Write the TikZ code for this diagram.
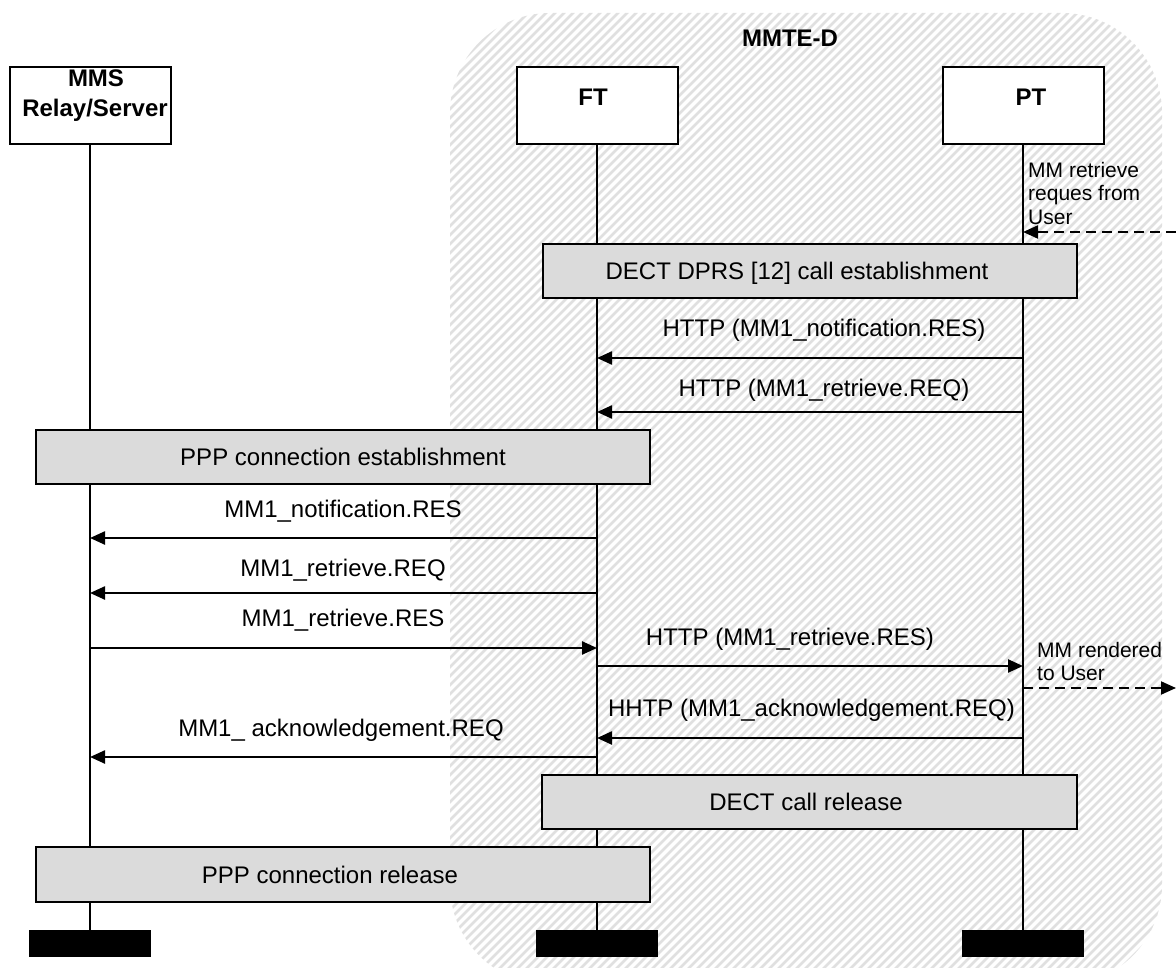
\documentclass[tikz,border=0pt]{standalone}
\usepackage{fontspec}
\setmainfont{Liberation Sans}
\usetikzlibrary{arrows.meta,calc}
\definecolor{hatchgray}{RGB}{224,224,224}
\definecolor{boxgray}{RGB}{219,219,219}
\tikzset{
  ent/.style={draw=black,line width=2pt,fill=white,minimum width=161pt,minimum height=77pt,inner sep=0pt},
  endbar/.style={fill=black,minimum width=122pt,minimum height=27pt,inner sep=0pt},
  actbox/.style={draw=black,line width=2pt,fill=boxgray,inner sep=0pt},
  life/.style={line width=2pt},
  hatchline/.style={draw=hatchgray,line width=2.6pt},
  msg/.style={line width=2.4pt,-{Triangle[length=15pt,width=13pt]}},
  usermsg/.style={line width=2pt,dash pattern=on 10pt off 6pt,-{Triangle[length=15pt,width=13pt]}},
  lbl/.style={font=\fontsize{24}{28}\selectfont,inner sep=0pt,anchor=base},
  blbl/.style={font=\fontsize{24}{28}\selectfont\bfseries,inner sep=0pt,anchor=base},
  note/.style={font=\fontsize{21}{23.5}\selectfont,align=left,inner sep=0pt,anchor=north west},
}
\begin{document}
\begin{tikzpicture}[x=1pt,y=-1pt]
\useasboundingbox (0,0) rectangle (1176,968);
% hatched MMTE-D region
\begin{scope}
  \clip (0,0) rectangle (1176,968);
  \clip[rounded corners=100pt] (450,13) rectangle (1162,985);
  \foreach \i in {-530,-521,...,1170} {
    \draw[hatchline] (\i,990) -- ++(980,-980);
  }
\end{scope}
\node[blbl] (mmte) at (790,47) {MMTE-D};

% entities
\node[ent] (mms) at (90,106) {};
\node[ent] (ft) at (597,106) {};
\node[ent] (pt) at (1023,106) {};
\node[blbl] (mmst1) at (96,87) {MMS};
\node[blbl] (mmst2) at (95,117) {Relay/Server};
\node[blbl] (ftt) at (593,106) {FT};
\node[blbl] (ptt) at (1031,106) {PT};

% end bars
\node[endbar] (mmsend) at (90,943.5) {};
\node[endbar] (ftend) at (597,943.5) {};
\node[endbar] (ptend) at (1023,943.5) {};

% lifelines
\draw[life] (mms.south) -- (mmsend.north);
\draw[life] (ft.south) -- (ftend.north);
\draw[life] (pt.south) -- (ptend.north);

% action boxes
\node[actbox,minimum width=534pt,minimum height=54pt] (dectest) at (810,271.5) {};
\node[lbl] (dectestt) at (797,280) {DECT DPRS [12] call establishment};
\node[actbox,minimum width=614pt,minimum height=54pt] (pppest) at (343,457) {};
\node[lbl] (pppestt) at (343,465.5) {PPP connection establishment};
\node[actbox,minimum width=535pt,minimum height=54pt] (dectrel) at (809.5,802) {};
\node[lbl] (dectrelt) at (806,810.5) {DECT call release};
\node[actbox,minimum width=614pt,minimum height=55pt] (ppprel) at (343,874.5) {};
\node[lbl] (ppprelt) at (330,883) {PPP connection release};

% user request
\coordinate (userin) at (1176,232);
\draw[usermsg] (userin) -- (pt.south |- userin);
\node[note] (usernote1) at (1028,162) {MM retrieve\\reques from\\User};

% messages
\draw[msg] (pt.south |- 0,358) -- (ft.south |- 0,358);
\node[lbl] (m1) at (824,337) {HTTP (MM1\_notification.RES)};
\draw[msg] (pt.south |- 0,412) -- (ft.south |- 0,412);
\node[lbl] (m2) at (824,396) {HTTP (MM1\_retrieve.REQ)};
\draw[msg] (ft.south |- 0,538) -- (mms.south |- 0,538);
\node[lbl] (m3) at (343,517) {MM1\_notification.RES};
\draw[msg] (ft.south |- 0,593) -- (mms.south |- 0,593);
\node[lbl] (m4) at (343,576) {MM1\_retrieve.REQ};
\draw[msg] (mms.south |- 0,648) -- (ft.south |- 0,648);
\node[lbl] (m5) at (343,626) {MM1\_retrieve.RES};
\draw[msg] (ft.south |- 0,666) -- (pt.south |- 0,666);
\node[lbl] (m6) at (790,645) {HTTP (MM1\_retrieve.RES)};
\draw[msg] (pt.south |- 0,738) -- (ft.south |- 0,738);
\node[lbl] (m7) at (811.5,716) {HHTP (MM1\_acknowledgement.REQ)};
\draw[msg] (ft.south |- 0,757) -- (mms.south |- 0,757);
\node[lbl] (m8) at (341,736) {MM1\_ acknowledgement.REQ};

% rendered to user
\coordinate (userout) at (1176,688);
\draw[usermsg] (pt.south |- userout) -- (userout);
\node[note] (usernote2) at (1037,642) {MM rendered\\to User};
\end{tikzpicture}
\end{document}
